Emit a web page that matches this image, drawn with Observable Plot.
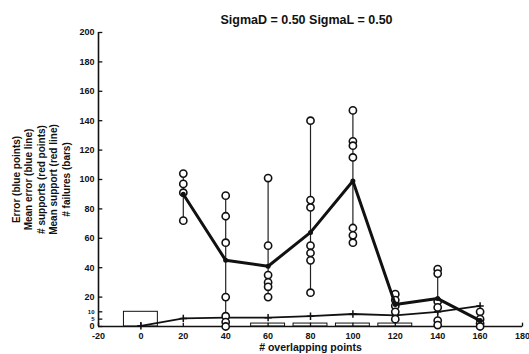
<!DOCTYPE html>
<html><head><meta charset="utf-8">
<script src="https://cdn.jsdelivr.net/npm/d3@7"></script>
<script src="https://cdn.jsdelivr.net/npm/@observablehq/plot@0.6"></script>
<style>body{margin:0;background:#fff}</style>
</head><body><div id="chart"></div>
<script>
// Number of overlapping points at which the runs were made
const overlaps = [20, 40, 60, 80, 100, 120, 140, 160];
// Individual errors per run, one list per overlap value
const errorPoints = [
  [104, 97, 91, 72],
  [89, 75, 57, 20, 7, 3, 0],
  [101, 55, 35, 30, 27, 20],
  [140, 86, 81, 55, 50, 45, 23],
  [147, 126, 123, 115, 67, 62, 57],
  [22, 18, 14, 10, 5],
  [39, 36, 17, 13, 4, 1],
  [10, 5, 2, 0]
];
const meanError = [90, 45, 41, 64, 99, 15, 19, 4];
// Support counts and failures, including the zero-overlap case
const supportX = [0, 20, 40, 60, 80, 100, 120, 140, 160];
const meanSupport = [0.5, 5.5, 6, 6, 7, 8.5, 7.5, 10, 14];
const failures = [10, 0, 0, 2, 2, 2, 2, 0, 0];
const xTicks = [-20, 0, 20, 40, 60, 80, 100, 120, 140, 160, 180];
const yTicks = [0, 5, 10, 20, 40, 60, 80, 100, 120, 140, 160, 180, 200];
const smallYTicks = [5, 10];
const title = "SigmaD = 0.50 SigmaL = 0.50";
const xLabel = "# overlapping points";
const yLabel = ["Error (blue points)", "Mean error (blue line)", "# supports (red points)",
  "Mean support (red line)", "# failures (bars)"];

const ink = "#111";
const points = overlaps.flatMap((x, i) => errorPoints[i].map(e => ({x, e})));
const ranges = overlaps.map((x, i) => ({x, lo: d3.min(errorPoints[i]), hi: d3.max(errorPoints[i])}));
const means = overlaps.map((x, i) => ({x, y: meanError[i]}));
const support = supportX.map((x, i) => ({x, y: meanSupport[i]}));
const bars = supportX.map((x, i) => ({x1: x - 8, x2: x + 8, y: failures[i]})).filter(d => d.y > 0);
const bigYTicks = yTicks.filter(t => !smallYTicks.includes(t));

const chart = Plot.plot({
  width: 529, height: 354,
  marginLeft: 98, marginRight: 7, marginTop: 32, marginBottom: 28,
  style: {fontFamily: "Liberation Sans, Arial, sans-serif", fontWeight: "bold", color: ink},
  x: {domain: [-20, 180], axis: null},
  y: {domain: [0, 200], axis: null},
  marks: [
    // axis lines with inward ticks
    Plot.ruleX([-20], {y1: 0, y2: 200, stroke: ink, strokeWidth: 1.6}),
    Plot.ruleY([0], {x1: -20, x2: 180, stroke: ink, strokeWidth: 1.6}),
    Plot.link(yTicks, {x1: -20, x2: -18.2, y1: d => d, y2: d => d, stroke: ink, strokeWidth: 1.3}),
    Plot.link(xTicks, {x1: d => d, x2: d => d, y1: 0, y2: 2.6, stroke: ink, strokeWidth: 1.3}),
    Plot.text(bigYTicks, {x: -20, y: d => d, text: d => d, dx: -4, textAnchor: "end", fontSize: 9, fill: ink}),
    Plot.text(smallYTicks, {x: -20, y: d => d, text: d => d, dx: -4, textAnchor: "end", fontSize: 6, fill: ink}),
    Plot.text(xTicks, {x: d => d, y: 0, text: d => d, dy: 10, fontSize: 9, fill: ink}),
    // failures as outlined bars
    Plot.rect(bars, {x1: "x1", x2: "x2", y1: 0, y2: "y", fill: "none", stroke: ink, strokeWidth: 1}),
    // spread of individual errors
    Plot.ruleX(ranges, {x: "x", y1: "lo", y2: "hi", stroke: "#222", strokeWidth: 1.2}),
    // mean support
    Plot.line(support, {x: "x", y: "y", stroke: ink, strokeWidth: 1.8}),
    Plot.dot(support, {x: "x", y: "y", symbol: "plus", r: 2.5, stroke: ink, strokeWidth: 1.5}),
    // individual errors
    Plot.dot(points, {x: "x", y: "e", r: 3.6, fill: "white", stroke: ink, strokeWidth: 1.6}),
    // mean error
    Plot.line(means, {x: "x", y: "y", stroke: ink, strokeWidth: 3}),
    Plot.dot(means, {x: "x", y: "y", r: 2.5, fill: ink}),
    Plot.text([title], {frameAnchor: "top", lineAnchor: "middle", dy: -13, dx: -4, fontSize: 12.5, fill: ink}),
    Plot.text([xLabel], {frameAnchor: "bottom", lineAnchor: "middle", dy: 21, fontSize: 10.5, fill: ink}),
    Plot.text([yLabel.join("\n")], {frameAnchor: "left", dx: -58, rotate: -90, textAnchor: "middle",
      fontSize: 10, lineHeight: 1.25, fill: ink})
  ]
});
document.getElementById("chart").append(chart);
</script>
</body></html>
